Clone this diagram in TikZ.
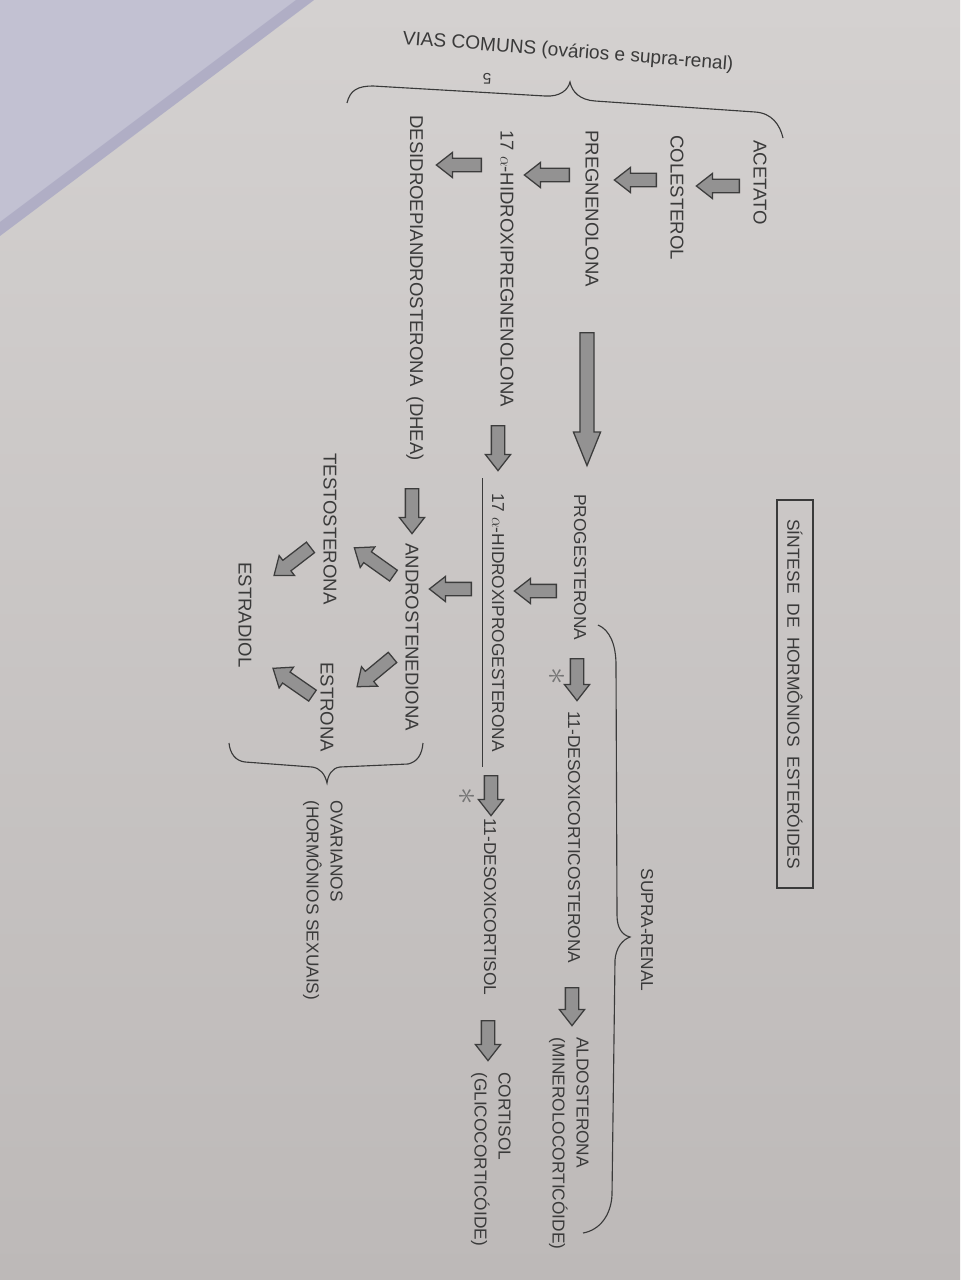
\documentclass[tikz,border=0pt]{standalone}
\usepackage{fontspec}
\setmainfont{Liberation Sans}
\usepackage{xcolor}
\usetikzlibrary{shapes.arrows}

\definecolor{ink}{HTML}{3A3A3A}
\definecolor{papertop}{HTML}{D4D1D0}
\definecolor{paperbot}{HTML}{BDB9B8}
\definecolor{lav}{HTML}{C2C1D2}
\definecolor{lavedge}{HTML}{8F8DAF}
\definecolor{arrowfill}{HTML}{939292}
\definecolor{arrowline}{HTML}{3C3C3C}

\begin{document}
\begin{tikzpicture}[
  x=0.025cm, y=0.025cm,
  lbl/.style={rotate=-90, anchor=west, inner sep=0pt, text=ink, font=\fontsize{13.2}{17}\selectfont},
  lblr/.style={lbl, font=\fontsize{12.3}{17}\selectfont},
  star/.style={text=ink!70, font=\fontsize{26}{26}\selectfont, rotate=-90, inner sep=0pt},
  blk/.style={single arrow, draw=arrowline, fill=arrowfill, line width=0.9pt,
    inner xsep=0pt, inner ysep=4.27pt, single arrow head extend=4.27pt,
    single arrow tip angle=76, minimum height=#1*0.025cm, anchor=tail},
  blklong/.style={blk=#1, inner ysep=4.6pt, single arrow head extend=4.6pt, single arrow tip angle=44},
  bracket/.style={draw=ink, line width=0.8pt}
]
  \useasboundingbox (0,0) rectangle (960,-1280);
  % photo background: paper and the folded sheet in the corner
  \shade[top color=papertop, bottom color=paperbot] (0,0) rectangle (960,-1280);
  \fill[lav] (0,0) -- (314,0) -- (0,-236) -- cycle;
  \fill[lavedge, opacity=0.35] (314,0) -- (296,0) -- (0,-222) -- (0,-236) -- cycle;

  % title
  \node[draw=ink, line width=0.9pt, rotate=-90, minimum width=388*0.025cm, minimum height=36*0.025cm,
    inner sep=0pt, text=ink, font=\fontsize{12.4}{15}\selectfont] (title) at (795,-694)
    {SÍNTESE\ \ DE\ \ HORMÔNIOS\ \ ESTERÓIDES};

  % common pathway
  \node[text=ink, font=\fontsize{13.6}{16}\selectfont, rotate=-4.5, inner sep=0pt] (vias) at (568,-52)
    {VIAS COMUNS (ovários e supra-renal)};
  \node[text=ink, font=\fontsize{11}{13}\selectfont, rotate=180, inner sep=0pt] (pagenum) at (487,-79) {5};
  \node[lbl] (acetato) at (760,-140) {ACETATO};
  \node[lbl] (colesterol) at (677,-135) {COLESTEROL};
  \node[lbl] (pregnenolona) at (592,-130) {PREGNENOLONA};
  \node[lbl] (hpreg) at (507,-130) {17 $\alpha$-HIDROXIPREGNENOLONA};
  \node[lbl] (dhea) at (415,-115) {DESIDROEPIANDROSTERONA\ \ (DHEA)};

  % supra-renal
  \node[lblr] (progesterona) at (580,-494) {PROGESTERONA};
  \node[lblr] (doc) at (574,-711) {11-DESOXICORTICOSTERONA};
  \node[lblr, align=left, anchor=north west] (aldosterona) at (589,-1037) {ALDOSTERONA\\(MINEROLOCORTICÓIDE)};
  \node[lblr] (hprog) at (498,-493) {17 $\alpha$-HIDROXIPROGESTERONA};
  \node[lblr] (desoxicortisol) at (490,-818) {11-DESOXICORTISOL};
  \node[lblr, align=left, anchor=north west] (cortisol) at (511,-1072) {CORTISOL\\(GLICOCORTICÓIDE)};
  \node[lblr, anchor=center] (suprarenal) at (647,-930) {SUPRA-RENAL};
  \node[star] (ast1) at (556,-676) {$\ast$};
  \node[star] (ast2) at (466,-796) {$\ast$};

  % ovaries
  \node[lbl] (androstenediona) at (412,-543) {ANDROSTENEDIONA};
  \node[lbl] (testosterona) at (330,-453) {TESTOSTERONA};
  \node[lbl] (estrona) at (327,-662) {ESTRONA};
  \node[lbl] (estradiol) at (245,-562) {ESTRADIOL};
  \node[lblr, align=left, anchor=north west] (ovarianos) at (343,-800) {OVARIANOS\\(HORMÔNIOS SEXUAIS)};

  % block arrows
  \node[blk=43, rotate=180] (c1) at (740,-186) {};
  \node[blk=42, rotate=180] (c2) at (657,-180) {};
  \node[blk=45, rotate=180] (c3) at (570,-175) {};
  \node[blk=45, rotate=180] (c4) at (482,-165) {};
  \node[blklong=133, rotate=-90] (pp) at (587,-332) {};
  \node[blk=42, rotate=-90] (s1) at (577,-658) {};
  \node[blk=38, rotate=-90] (s2) at (572,-987) {};
  \node[blk=45, rotate=-90] (s3) at (498,-425) {};
  \node[blk=40, rotate=-90] (s4) at (491,-775) {};
  \node[blk=40, rotate=-90] (s5) at (488,-1020) {};
  \node[blk=42, rotate=180] (d1) at (557,-591) {};
  \node[blk=42, rotate=180] (d2) at (472,-589) {};
  \node[blk=45, rotate=-90] (o1) at (412,-488) {};
  \node[blk=48, rotate=144.6] (o2) at (394,-576) {};
  \node[blk=46, rotate=219.6] (o3) at (393,-657) {};
  \node[blk=46, rotate=217.6] (o4) at (311,-547) {};
  \node[blk=48, rotate=145.3] (o5) at (313,-696) {};

  % underline and braces
  \draw[ink, line width=0.7pt] (482,-478) -- (482,-767);
  \draw[bracket] (347,-103) .. controls (350,-90) and (358,-86) .. (373,-86) -- (545,-96)
    .. controls (560,-97) and (568,-90) .. (570,-82) .. controls (572,-92) and (580,-100) .. (595,-101)
    -- (755,-112) .. controls (772,-113) and (780,-125) .. (783,-138);
  \draw[bracket] (598,-625) .. controls (610,-630) and (616,-645) .. (616,-665) -- (617,-915)
    .. controls (617,-928) and (622,-935) .. (630,-937) .. controls (622,-940) and (616,-948) .. (615,-960)
    -- (612,-1195) .. controls (611,-1215) and (600,-1230) .. (583,-1233);
  \draw[bracket] (423,-743) .. controls (422,-755) and (417,-762) .. (408,-764) -- (340,-767)
    .. controls (332,-768) and (328,-775) .. (327,-783) .. controls (325,-774) and (320,-768) .. (312,-767)
    -- (245,-762) .. controls (236,-761) and (230,-754) .. (229,-743);
\end{tikzpicture}
\end{document}
